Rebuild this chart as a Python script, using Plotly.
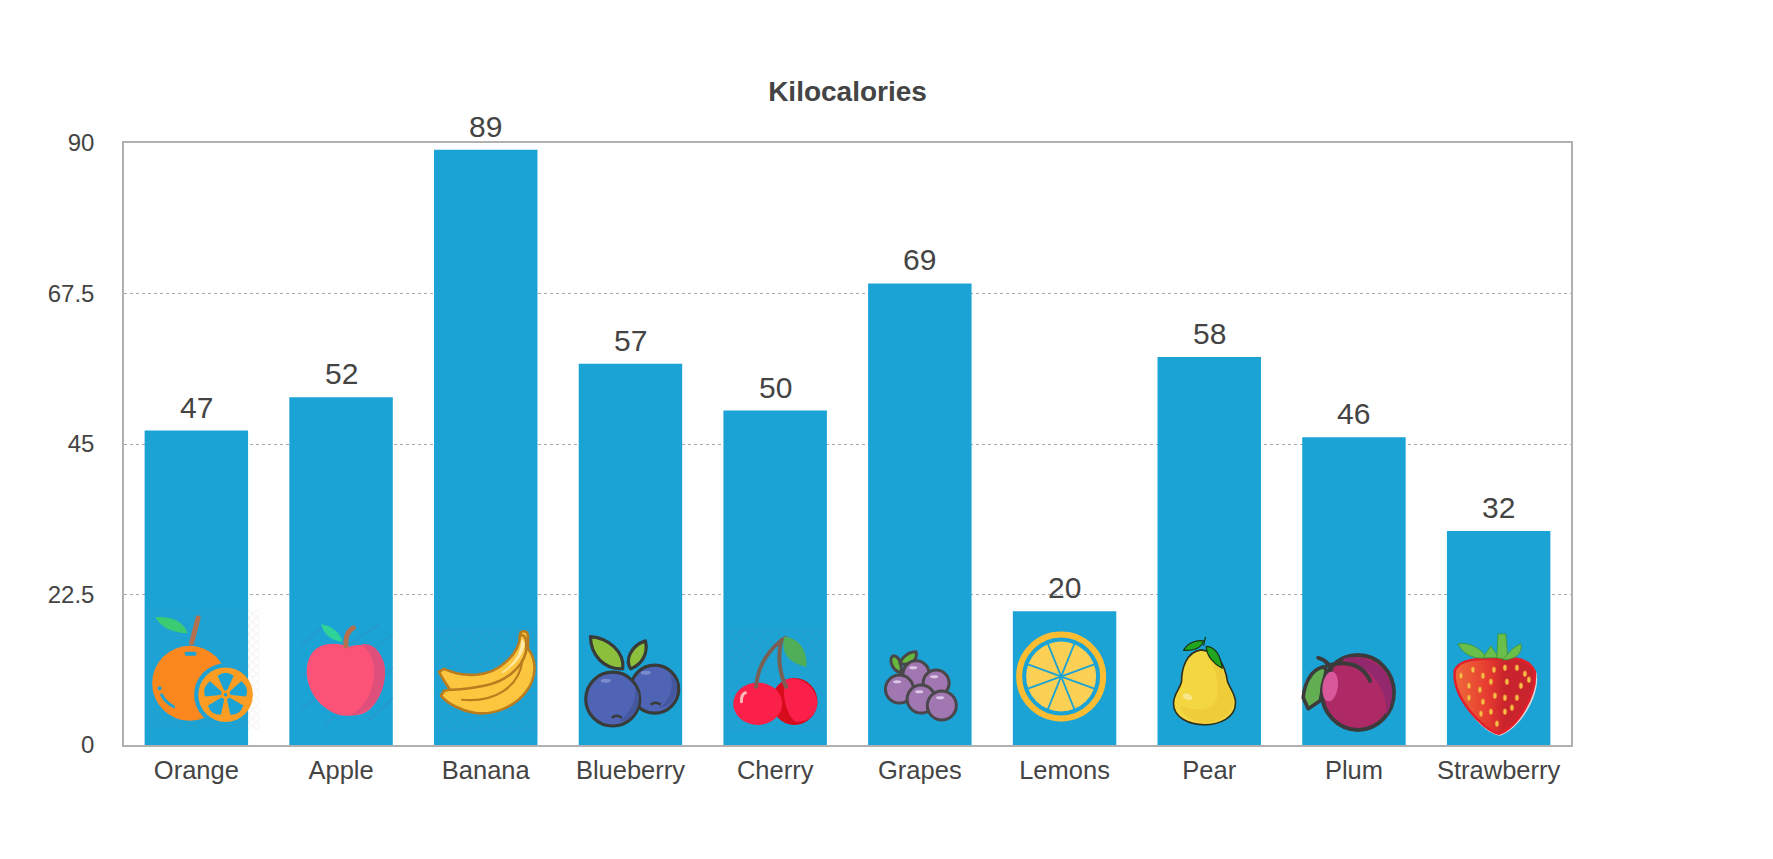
import base64
import plotly.graph_objects as go

# ---- data ----
categories = ["Orange", "Apple", "Banana", "Blueberry", "Cherry", "Grapes", "Lemons", "Pear", "Plum", "Strawberry"]
kilocalories = [47, 52, 89, 57, 50, 69, 20, 58, 46, 32]
y_ticks = [0, 22.5, 45, 67.5, 90]
y_tick_labels = ["0", "22.5", "45", "67.5", "90"]
chart_title = "Kilocalories"

BAR = "#1ba3d6"
INK = "#444444"
FRAME = "#b0b0b0"

# ---- decorative fruit pictures (SVG, 130x130 box) ----
HATCH = ('<defs><pattern id="h" width="8" height="8" patternUnits="userSpaceOnUse">'
         '<path d="M0 0L8 8M8 0L0 8" stroke="#777" stroke-opacity=".06" stroke-width="1.6"/></pattern></defs>')

def petals(cx, cy):
    out = ""
    for a in [0, 72, 144, 216, 288]:
        out += (f'<path transform="translate({cx} {cy}) rotate({a})" '
                f'd="M-1.8 -5 L-8 -19 Q0 -25 8 -19 L1.8 -5 Q0 -3.5 -1.8 -5Z" fill="{BAR}"/>')
    return out

orange = (HATCH + '<rect x="-1" y="-2" width="120" height="122" fill="url(#h)"/>'
  f'<defs><mask id="m"><rect width="130" height="130" fill="#fff"/><circle cx="81" cy="85" r="31.5" fill="#000"/></mask></defs>'
  '<circle cx="45" cy="73.5" r="37.5" fill="#fb871f" mask="url(#m)"/>'
  f'<rect x="40" y="42" width="12" height="4" rx="2" fill="{BAR}"/>'
  f'<circle cx="15" cy="78.5" r="2" fill="{BAR}"/><path d="M17 85Q20 92 29 97" stroke="{BAR}" stroke-width="3" fill="none" stroke-linecap="round"/>'
  '<circle cx="81" cy="85" r="27.3" fill="#fb9d22"/>' + petals(81, 85) +
  f'<circle cx="81" cy="85" r="1.8" fill="{BAR}"/>'
  '<path d="M53.5 8L47 33" stroke="#b5714f" stroke-width="5" stroke-linecap="round"/>'
  '<path d="M10.7 7.3Q36 6 43.3 23.3Q20 23 10.7 7.3Z" fill="#3bcb72"/>')

apple = ('<g stroke="#5a6f8a" stroke-opacity=".22" stroke-width="1.2">'
  '<path d="M12 36L36 14M12 66L90 14M12 100L104 24M36 114L104 58M78 112L104 88"/></g>'
  '<path d="M60 37C50 33 28 30 20 48C13 65 20 90 42 102C50 107 60 106 66 105.5C85 105 96 80 95.7 60C95 40 75 31 60 37Z" fill="#fb5277"/>'
  '<path d="M72 34.5C85 32 95 45 95.7 62C96 85 82 105 60 105.8C75 100 85 80 85 62C85 50 80 40 72 34.5Z" fill="#df4f7c"/>'
  '<path d="M56.5 36Q56 22 64 18" stroke="#b5714f" stroke-width="5" fill="none" stroke-linecap="round"/>'
  '<path d="M31.7 14Q50 18 53 32Q36 30 31.7 14Z" fill="#2fd39a"/>')

banana = (HATCH + '<rect x="0" y="17" width="104" height="106" fill="url(#h)"/>'
  '<g stroke="#b97c1f" stroke-width="2.6" stroke-linejoin="round">'
  '<path d="M86 24C87 20 94 20 94 27L94 39C103 50 103 68 92 82C80 98 58 106 40 103C27 101 14 94 7 86L10 81L60 72L86 40Z" fill="#fdc63f"/>'
  '<path d="M5 62L10 59C30 68 55 68 72 52C82 43 86 35 86 25C92 25 93 30 92 42C88 58 72 72 50 76C35 79 22 80 16 80C12 74 8 68 5 62Z" fill="#fdc63f"/>'
  '</g>'
  '<path d="M88 30C88 44 80 55 68 63C78 56 88 48 90 34Z" fill="#fde9a9" stroke="#fde9a9" stroke-width="1.5"/>'
  '<path d="M28 90C60 93 85 78 88.5 50" stroke="#b97c1f" stroke-width="2.2" fill="none" stroke-linecap="round"/>')

blueberry = ('<g stroke="#383b38" stroke-width="3.2" stroke-linejoin="round">'
  '<path d="M11.7 26.7C30 28 46 42 44 59C25 60 12 45 11.7 26.7Z" fill="#8cc03c"/>'
  '<path d="M66.7 31C70 45 62 55 52 59C46 50 52 36 66.7 31Z" fill="#8cc03c"/>'
  '<circle cx="76" cy="79.3" r="24" fill="#4f64b5"/>'
  '<circle cx="34" cy="89.3" r="27" fill="#4f64b5"/></g>'
  '<path d="M54 72C60 82 56 100 40 112C52 112 62 100 60 84Z" fill="#44579f"/>'
  '<path d="M90 62C97 74 92 92 80 98C92 98 100 85 98 72Z" fill="#44579f"/>'
  '<ellipse cx="27" cy="71" rx="5" ry="2" fill="#7b8bcd"/><ellipse cx="67" cy="63" rx="5" ry="2" fill="#7b8bcd"/>'
  '<path d="M33 108Q38 104 43 108M72 95Q77 91 82 95" stroke="#383b38" stroke-width="2.6" fill="none"/>')

cherry = (HATCH + '<rect x="0" y="17" width="104" height="106" fill="url(#h)"/>'
  '<ellipse cx="71" cy="91.7" rx="23" ry="23.5" fill="#d60b1c"/>'
  '<path d="M62 70C70 66 90 70 94 92C94 105 84 113 72 112C62 105 58 82 62 70Z" fill="#fb2049"/>'
  '<ellipse cx="34.3" cy="94" rx="24.5" ry="21.2" fill="#fb2049"/>'
  '<path d="M18 92Q18 84 22 83" stroke="#fbb" stroke-width="3" fill="none" stroke-linecap="round"/>'
  '<path d="M32.7 77C34 56 46 38 62 28M62.7 77C56 64 54 46 58 30" stroke="#7a5f55" stroke-width="4" fill="none" stroke-linecap="round"/>'
  '<path d="M61 27C75 28 84 40 83 57C70 55 56 46 61 27Z" fill="#4fae57"/>')

grapes = ('<g stroke="#4a474a" stroke-width="3" stroke-linejoin="round">'
  '<path d="M25 46C21 48 22 60 33 63C34 55 31 46 25 46Z" fill="#66b83e"/>'
  '<path d="M48 42C40 42 33 48 32 54C42 56 50 50 48 42Z" fill="#66b83e"/>'
  '<circle cx="48" cy="64" r="13" fill="#a077b0"/><circle cx="68" cy="73.3" r="13" fill="#a077b0"/>'
  '<circle cx="31.3" cy="79.3" r="14" fill="#a077b0"/><circle cx="53" cy="89.3" r="14" fill="#a077b0"/>'
  '<circle cx="73.7" cy="95.7" r="14.5" fill="#a077b0"/></g>'
  '<g fill="#ddc6e6"><ellipse cx="45" cy="58" rx="4" ry="1.5"/><ellipse cx="66" cy="67" rx="4" ry="1.5"/>'
  '<ellipse cx="29" cy="72" rx="4" ry="1.5"/><ellipse cx="51" cy="82" rx="4" ry="1.5"/><ellipse cx="72" cy="88" rx="4" ry="1.5"/></g>')

lemon_spokes = "".join(
    f'<path transform="translate(48.3 66.7) rotate({a})" d="M0 -36V36" stroke="{BAR}" stroke-width="1.8"/>'
    for a in [-22, 22, 70, -70])
lemon = ('<circle cx="48.3" cy="66.7" r="42" fill="none" stroke="#fcbd33" stroke-width="6"/>'
         '<circle cx="48.3" cy="66.7" r="35" fill="#fcd055"/>' + lemon_spokes)

pear = ('<path d="M43.7 40C28 42 24 60 24 72C22 80 16 84 16 94C16 108 32 115 47 115C62 115 78 108 78 93C78 84 72 78 70 72C68 58 62 42 43.7 40Z" fill="#f3d640" stroke="#2f2f1c" stroke-width="1.6"/>'
  '<path d="M22 96C28 110 40 113 47 113C60 113 75 106 76 93C76 85 70 80 68 72C66 60 60 46 48 44C58 55 60 70 60 80C62 95 50 106 22 96Z" fill="#ecc935" opacity=".75"/>'
  '<ellipse cx="30" cy="87" rx="5" ry="3" fill="#f9e68a" transform="rotate(20 30 87)"/>'
  '<g stroke="#18350f" stroke-width="1.2" stroke-linejoin="round" fill="#22a51f">'
  '<path d="M26 40.5C30 33 38 30 46 31C44 38 36 41 26 40.5Z"/>'
  '<path d="M48.7 36.5C58 37 63 46 64.7 58.5C56 54 49 46 48.7 36.5Z"/>'
  '<path d="M48 27L46 36" fill="none"/></g>')

plum = ('<path d="M21 57C8 60 2 75 1 88L6 99L18 91L24 60Z" fill="#63ad52" stroke="#3b3b3b" stroke-width="3.6" stroke-linejoin="round"/>'
  '<ellipse cx="55.7" cy="82.7" rx="36" ry="37.5" fill="#ad2a67" stroke="#3b3b3b" stroke-width="4"/>'
  '<path d="M40 49C60 43 88 55 90 82C90 92 87 100 84 106C86 85 76 60 40 49Z" fill="#94286d"/>'
  '<ellipse cx="28" cy="76.7" rx="7.7" ry="15" fill="#d9589b" transform="rotate(8 28 76.7)"/>'
  '<path d="M16 48C24 50 28 56 29 60M24 56C45 50 60 55 68 71" stroke="#3b3b3b" stroke-width="4" fill="none" stroke-linecap="round"/>')

seeds = [(14,66),(26,60),(36,66),(22,76),(33,80),(44,72),(47,60),(58,58),(70,58),(78,64),(60,72),(74,76),(48,86),(36,92),(22,88),(58,88),(70,88),(44,102),(58,102),(34,104),(50,114),(65,98),(82,70)]
strawberry = ('<defs><linearGradient id="s" x1="0" x2="1" y1="0" y2="0">'
  '<stop offset="0" stop-color="#ef6a3a"/><stop offset=".42" stop-color="#e63a30"/><stop offset=".62" stop-color="#c9242d"/><stop offset="1" stop-color="#c9242d"/>'
  '</linearGradient></defs>'
  '<path d="M10 62C14 50 35 50 50 50C65 48 84 48 90 64C93 88 72 120 53 126C35 124 6 88 10 62Z" fill="#d9d9d9"/>'
  '<path d="M8 60C14 48 35 49 50 49C65 47 82 48 88 62C90 86 70 118 52 124C35 120 4 86 8 60Z" fill="url(#s)" stroke="#e21f2a" stroke-width="2.5"/>'
  + "".join(f'<ellipse cx="{x}" cy="{y}" rx="1.8" ry="3" fill="#f3c14a" stroke="#e8792f" stroke-width=".8"/>' for x, y in seeds) +
  '<g fill="#6abf4b" stroke="#3f8f34" stroke-width=".8" stroke-linejoin="round">'
  '<path d="M11 34C22 32 34 38 40 48C26 50 16 44 11 34Z"/>'
  '<path d="M36 48L44 36L52 48Z"/>'
  '<path d="M51 24L59 24L61 50L50 48Z"/>'
  '<path d="M74 34C76 44 68 50 56 50C62 42 68 36 74 34Z"/></g>')

fruit_svgs = [orange, apple, banana, blueberry, cherry, grapes, lemon, pear, plum, strawberry]

def uri(body):
    svg = f'<svg xmlns="http://www.w3.org/2000/svg" width="260" height="260" viewBox="-15 0 130 130">{body}</svg>'
    return "data:image/svg+xml;base64," + base64.b64encode(svg.encode()).decode()

fig = go.Figure(go.Bar(
    x=list(range(len(categories))), y=kilocalories,
    marker=dict(color=BAR, line=dict(width=0)), width=0.715, hoverinfo="x+y",
))

PX_X = 1447 / 10          # pixels per category
PX_Y = 603 / 90           # pixels per unit
images = []
for i, body in enumerate(fruit_svgs):
    images.append(dict(
        source=uri(body), xref="x", yref="y", layer="above",
        x=i - 0.3575 - 15 / PX_X, y=135.3 / PX_Y,
        sizex=130 / PX_X, sizey=130 / PX_Y,
        xanchor="left", yanchor="top", sizing="stretch",
    ))

annotations = [
    dict(x=i, y=v, xref="x", yref="y", text=str(v), showarrow=False, yanchor="bottom",
         yshift=5, font=dict(size=30, color=INK))
    for i, v in enumerate(kilocalories)
]

fig.update_layout(
    width=1765, height=851, autosize=False,
    margin=dict(l=116, r=202, t=134.5, b=113.5, pad=0),
    paper_bgcolor="white", plot_bgcolor="white",
    font=dict(family="Liberation Sans, Arial, sans-serif", color=INK, size=24),
    title=dict(text=f"<b>{chart_title}</b>", x=0.5, xanchor="center", xref="paper",
               y=1 - 93 / 851, yanchor="bottom", yref="container",
               font=dict(size=28, color=INK), pad=dict(b=0)),
    showlegend=False, images=images, annotations=annotations, bargap=0.285,
    xaxis=dict(tickmode="array", tickvals=list(range(len(categories))), ticktext=categories,
               range=[-0.5, 9.5], showgrid=False, zeroline=False, showline=True, mirror=True,
               linecolor=FRAME, linewidth=1.5, ticks="", ticklabelstandoff=2,
               tickfont=dict(size=25.5, color=INK)),
    yaxis=dict(tickmode="array", tickvals=y_ticks, ticktext=y_tick_labels, range=[0, 90],
               showgrid=True, gridcolor="#aaaaaa", gridwidth=1, griddash="3px 3px",
               zeroline=False, showline=True, mirror=True, linecolor=FRAME, linewidth=1.5,
               ticks="", ticklabelstandoff=23, tickfont=dict(size=24, color=INK)),
)
fig.write_html("out.html", config=dict(displayModeBar=False))
